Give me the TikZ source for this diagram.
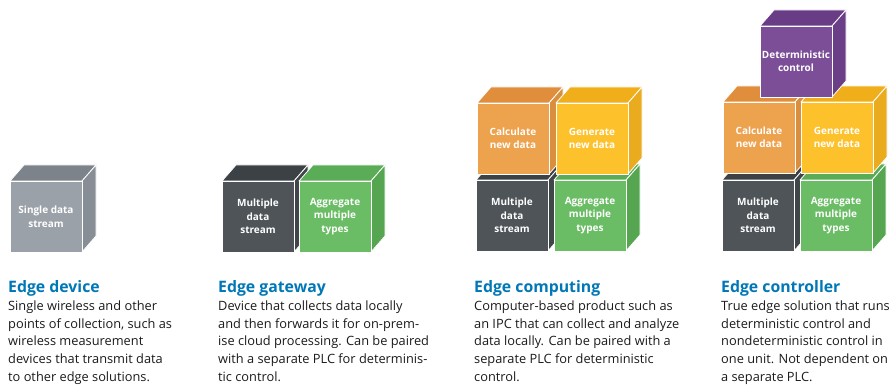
\documentclass[tikz,border=0pt]{standalone}
\usepackage{fontspec}
\setmainfont{Open Sans}
\definecolor{greyF}{RGB}{155,161,168}
\definecolor{greyT}{RGB}{125,131,138}
\definecolor{greyS}{RGB}{136,142,149}
\definecolor{darkF}{RGB}{78,84,88}
\definecolor{darkT}{RGB}{60,65,69}
\definecolor{darkS}{RGB}{64,69,73}
\definecolor{greenF}{RGB}{106,189,101}
\definecolor{greenT}{RGB}{90,172,86}
\definecolor{greenS}{RGB}{86,166,81}
\definecolor{orangeF}{RGB}{237,162,78}
\definecolor{orangeT}{RGB}{224,142,60}
\definecolor{orangeS}{RGB}{217,143,61}
\definecolor{yellowF}{RGB}{253,193,43}
\definecolor{yellowT}{RGB}{241,174,27}
\definecolor{yellowS}{RGB}{235,171,31}
\definecolor{purpleF}{RGB}{124,78,152}
\definecolor{purpleT}{RGB}{105,61,134}
\definecolor{purpleS}{RGB}{107,63,135}
\definecolor{titleblue}{RGB}{0,119,182}
\definecolor{bodytext}{RGB}{26,26,26}
\tikzset{
  cubeedge/.style={draw=white, line width=0.8pt, line join=round},
  cubefront/.style={cubeedge, rectangle, minimum width=72pt, minimum height=71pt,
    inner sep=0pt, outer sep=0pt, text=white, align=center,
    font=\fontsize{10}{13.5}\selectfont\bfseries},
  ctitle/.style={anchor=base west, inner sep=0pt, text=titleblue,
    font=\fontsize{15.8}{18}\selectfont\bfseries},
  cbody/.style={anchor=north west, inner sep=0pt, align=left, text=bodytext,
    font=\fontsize{12.8}{17.7}\selectfont}
}
% \mycube{name}{X}{Y}{colour prefix}{text}
\newcommand{\mycube}[5]{%
  \fill[#4T, cubeedge] (#2,#3) -- ++(14,-16) -- ++(72,0) -- ++(-14,16) -- cycle;
  \fill[#4S, cubeedge] (#2+72,#3) -- ++(14,-16) -- ++(0,71) -- ++(-14,16) -- cycle;
  \node[cubefront, fill=#4F, anchor=north west] (#1) at (#2,#3) {#5};
}
\begin{document}
\begin{tikzpicture}[x=1pt, y=-1pt]
\useasboundingbox (0,0) rectangle (892,385);
% Edge device
\mycube{single}{10}{181}{grey}{Single data\\stream}
% Edge gateway
\mycube{gwdata}{222}{181}{dark}{Multiple\\data\\stream}
\mycube{gwagg}{299}{181}{green}{Aggregate\\multiple\\types}
% Edge computing
\mycube{ecdata}{476}{180}{dark}{Multiple\\data\\stream}
\mycube{ecagg}{554}{180}{green}{Aggregate\\multiple\\types}
\mycube{eccalc}{477}{103}{orange}{Calculate\\new data}
\mycube{ecgen}{556}{103}{yellow}{Generate\\new data}
% Edge controller
\mycube{ctdata}{722}{180}{dark}{Multiple\\data\\stream}
\mycube{ctagg}{800}{180}{green}{Aggregate\\multiple\\types}
\mycube{ctcalc}{723}{102}{orange}{Calculate\\new data}
\mycube{ctgen}{801}{102}{yellow}{Generate\\new data}
\mycube{ctdet}{760}{26}{purple}{Deterministic\\control}
% Titles
\node[ctitle] (t1) at (8,292) {Edge device};
\node[ctitle] (t2) at (218,292) {Edge gateway};
\node[ctitle] (t3) at (474,292) {Edge computing};
\node[ctitle] (t4) at (721,292) {Edge controller};
% Bodies
\node[cbody] (b1) at (8,300.5) {Single wireless and other\\points of collection, such as\\wireless measurement\\devices that transmit data\\to other edge solutions.};
\node[cbody] (b2) at (218,300.5) {Device that collects data locally\\and then forwards it for on-prem-\\ise cloud processing. Can be paired\\with a separate PLC for determinis-\\tic control.};
\node[cbody] (b3) at (474,300.5) {Computer-based product such as\\an IPC that can collect and analyze\\data locally. Can be paired with a\\separate PLC for deterministic\\control.};
\node[cbody] (b4) at (721,300.5) {True edge solution that runs\\deterministic control and\\nondeterministic control in\\one unit. Not dependent on\\a separate PLC.};
\end{tikzpicture}
\end{document}
